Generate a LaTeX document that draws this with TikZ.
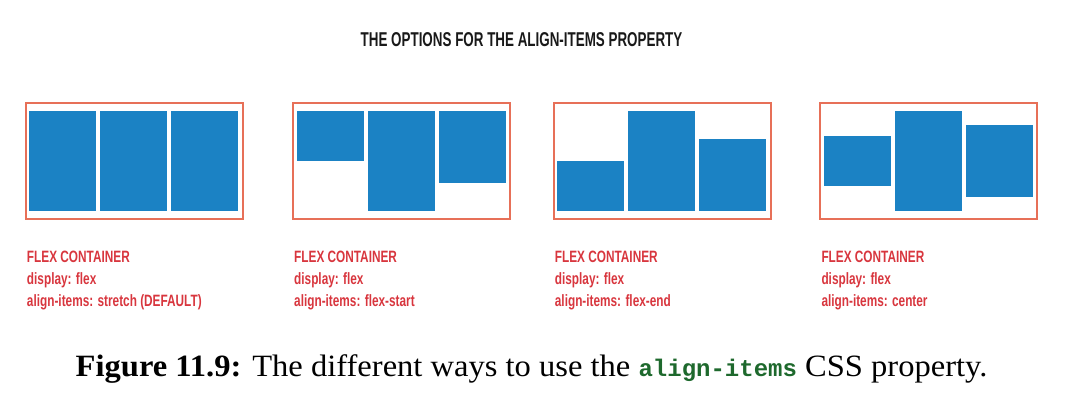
\documentclass[tikz,border=0pt]{standalone}
\usepackage{fontspec}
\setmainfont{Liberation Serif}
\setmonofont{Liberation Mono}
\newfontfamily\condfont[FakeStretch=0.72]{Liberation Sans}
\newfontfamily\headfont[FakeStretch=0.67]{Liberation Sans}
\newfontfamily\capfont[FakeStretch=1.05]{Liberation Serif}
\usetikzlibrary{positioning}
\definecolor{itemblue}{RGB}{27,130,196}
\definecolor{boxred}{RGB}{231,112,88}
\definecolor{labelred}{RGB}{216,54,62}
\definecolor{codegreen}{RGB}{30,105,45}
\definecolor{titleblack}{RGB}{25,25,25}
\tikzset{
	container/.style = {draw=boxred, line width=2pt, minimum width=217pt, minimum height=115.6pt, inner sep=0pt},
	flexitem/.style = {fill=itemblue, minimum width=67pt, inner sep=0pt, outer sep=0pt},
	tallitem/.style = {flexitem, minimum height=100.8pt},
	shortitem/.style = {flexitem, minimum height=50pt},
	miditem/.style = {flexitem, minimum height=72.5pt},
	flexlabel/.style = {text=labelred, font=\condfont\bfseries\fontsize{16.4}{22.2}\selectfont, align=left, inner sep=0pt},
}
\begin{document}
\begin{tikzpicture}[x=1pt, y=-1pt]
	\useasboundingbox (0,0) rectangle (1075,413);
	\node[font=\headfont\bfseries\fontsize{20}{22}\selectfont, text=titleblack, anchor=base, inner sep=0pt] (title) at (521.5,46.7) {THE OPTIONS FOR THE ALIGN-ITEMS PROPERTY};
	% stretch
	\node[container] (box1) at (134.3,161) {};
	\node[tallitem, below right=8.4pt and 4.5pt of box1.north west] (box1a) {};
	\node[tallitem, right=4pt of box1a] (box1b) {};
	\node[tallitem, right=4pt of box1b] (box1c) {};
	\node[flexlabel, below right=30.6pt and 2pt of box1.south west] (text1) {FLEX CONTAINER\\display: flex\\align-items: stretch (DEFAULT)};
	% flex-start
	\node[container] (box2) at (401.5,161) {};
	\node[shortitem, below right=8.4pt and 4.5pt of box2.north west] (box2a) {};
	\node[tallitem, right=4pt of box2a.north east, anchor=north west] (box2b) {};
	\node[miditem, right=4pt of box2b.north east, anchor=north west] (box2c) {};
	\node[flexlabel, below right=30.6pt and 2pt of box2.south west] (text2) {FLEX CONTAINER\\display: flex\\align-items: flex-start};
	% flex-end
	\node[container] (box3) at (662.2,161) {};
	\node[shortitem, above right=8.4pt and 4.5pt of box3.south west] (box3a) {};
	\node[tallitem, right=4pt of box3a.south east, anchor=south west] (box3b) {};
	\node[miditem, right=4pt of box3b.south east, anchor=south west] (box3c) {};
	\node[flexlabel, below right=30.6pt and 2pt of box3.south west] (text3) {FLEX CONTAINER\\display: flex\\align-items: flex-end};
	% center
	\node[container] (box4) at (928.8,161) {};
	\node[shortitem, right=4.5pt of box4.west] (box4a) {};
	\node[tallitem, right=4pt of box4a] (box4b) {};
	\node[miditem, right=4pt of box4b] (box4c) {};
	\node[flexlabel, below right=30.6pt and 2pt of box4.south west] (text4) {FLEX CONTAINER\\display: flex\\align-items: center};
	\node[font=\capfont\fontsize{31}{36}\selectfont, anchor=base west, inner sep=0pt] (caption) at (75.5,376) {\textbf{Figure 11.9:} The different ways to use the {\ttfamily\bfseries\fontsize{24}{36}\selectfont\color{codegreen}align-items} CSS property.};
\end{tikzpicture}
\end{document}
